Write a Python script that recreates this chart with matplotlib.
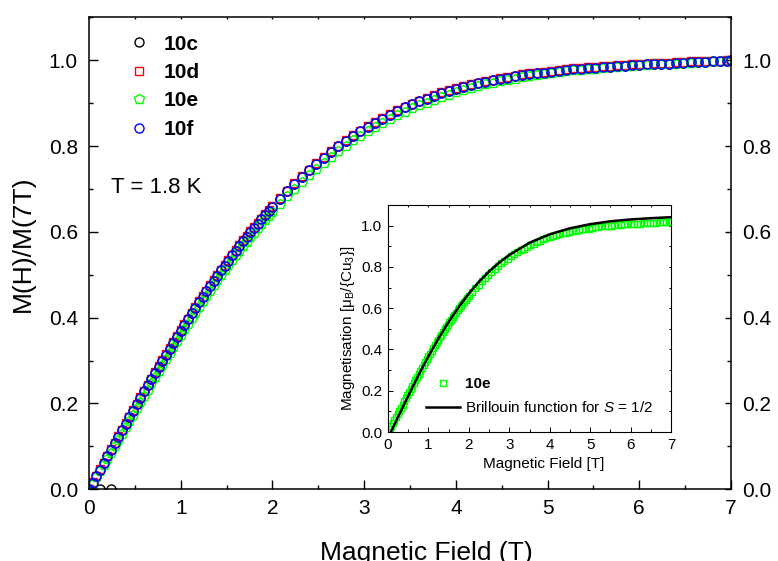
import matplotlib
matplotlib.use('Agg')
import matplotlib.pyplot as plt
from matplotlib.ticker import MultipleLocator

plt.rcParams['font.family'] = ['Liberation Sans', 'DejaVu Sans']
plt.rcParams['mathtext.fontset'] = 'custom'
plt.rcParams['mathtext.rm'] = 'Liberation Sans'
plt.rcParams['mathtext.it'] = 'Liberation Sans:italic'
plt.rcParams['mathtext.bf'] = 'Liberation Sans:bold'

# ---------------- data ----------------
field = [0.00, 0.04, 0.08, 0.12, 0.16, 0.20, 0.24, 0.28, 0.32, 0.36,
         0.40, 0.44, 0.48, 0.52, 0.56, 0.60, 0.64, 0.68, 0.72, 0.76,
         0.80, 0.84, 0.88, 0.92, 0.96, 1.00, 1.04, 1.08, 1.12, 1.16,
         1.20, 1.24, 1.28, 1.32, 1.36, 1.40, 1.44, 1.48, 1.52, 1.56,
         1.60, 1.64, 1.68, 1.72, 1.76, 1.80, 1.84, 1.88, 1.92, 1.96,
         2.00,
         2.08, 2.16, 2.24, 2.32, 2.40, 2.48, 2.56, 2.64, 2.72, 2.80,
         2.88, 2.96, 3.04, 3.12, 3.20, 3.28, 3.36, 3.44, 3.52, 3.60,
         3.68, 3.76, 3.84, 3.92, 4.00, 4.08, 4.16, 4.24, 4.32, 4.40,
         4.48, 4.56, 4.64, 4.72, 4.80, 4.88, 4.96, 5.04, 5.12, 5.20,
         5.28, 5.36, 5.44, 5.52, 5.60, 5.68, 5.76, 5.84, 5.92, 6.00,
         6.08, 6.16, 6.24, 6.32, 6.40, 6.48, 6.56, 6.64, 6.72, 6.80,
         6.88, 6.96, 7.00]

m_10c = [0.000, 0.015, 0.031, 0.000, 0.062, 0.077, 0.000, 0.107, 0.123, 0.138,
         0.153, 0.168, 0.183, 0.198, 0.213, 0.228, 0.242, 0.257, 0.271, 0.286,
         0.300, 0.314, 0.328, 0.342, 0.356, 0.370, 0.384, 0.397, 0.410, 0.423,
         0.436, 0.449, 0.461, 0.473, 0.486, 0.498, 0.510, 0.521, 0.533, 0.545,
         0.556, 0.567, 0.578, 0.588, 0.599, 0.609, 0.619, 0.629, 0.639, 0.648,
         0.658,
         0.676, 0.694, 0.711, 0.727, 0.743, 0.758, 0.772, 0.786, 0.799, 0.811,
         0.823, 0.834, 0.845, 0.854, 0.864, 0.873, 0.882, 0.890, 0.897, 0.904,
         0.910, 0.917, 0.923, 0.928, 0.933, 0.938, 0.942, 0.946, 0.950, 0.953,
         0.956, 0.959, 0.962, 0.965, 0.967, 0.969, 0.971, 0.973, 0.975, 0.977,
         0.979, 0.980, 0.981, 0.982, 0.984, 0.985, 0.986, 0.987, 0.988, 0.989,
         0.990, 0.991, 0.991, 0.992, 0.993, 0.994, 0.995, 0.995, 0.996, 0.997,
         0.998, 0.999, 1.000]

m_10d = [0.000, 0.016, 0.031, 0.047, 0.062, 0.078, 0.093, 0.108, 0.124, 0.139,
         0.154, 0.169, 0.184, 0.199, 0.214, 0.229, 0.244, 0.258, 0.273, 0.287,
         0.301, 0.315, 0.330, 0.344, 0.357, 0.371, 0.385, 0.398, 0.412, 0.425,
         0.438, 0.450, 0.463, 0.475, 0.488, 0.500, 0.512, 0.523, 0.535, 0.547,
         0.558, 0.569, 0.580, 0.590, 0.601, 0.611, 0.621, 0.631, 0.641, 0.650,
         0.660,
         0.678, 0.696, 0.713, 0.729, 0.745, 0.760, 0.774, 0.788, 0.801, 0.813,
         0.825, 0.836, 0.847, 0.856, 0.866, 0.875, 0.884, 0.892, 0.899, 0.906,
         0.912, 0.919, 0.925, 0.930, 0.935, 0.940, 0.944, 0.948, 0.952, 0.955,
         0.958, 0.961, 0.964, 0.967, 0.969, 0.971, 0.973, 0.975, 0.977, 0.979,
         0.981, 0.982, 0.983, 0.984, 0.986, 0.987, 0.988, 0.989, 0.990, 0.991,
         0.992, 0.993, 0.993, 0.994, 0.995, 0.996, 0.997, 0.997, 0.998, 0.999,
         0.999, 1.000, 1.000]

m_10e = [0.000, 0.013, 0.028, 0.042, 0.057, 0.071, 0.085, 0.100, 0.115, 0.130,
         0.145, 0.160, 0.174, 0.189, 0.204, 0.218, 0.232, 0.247, 0.261, 0.276,
         0.290, 0.304, 0.318, 0.331, 0.345, 0.359, 0.373, 0.386, 0.399, 0.412,
         0.425, 0.438, 0.450, 0.462, 0.475, 0.487, 0.499, 0.510, 0.522, 0.534,
         0.545, 0.556, 0.567, 0.577, 0.588, 0.598, 0.608, 0.618, 0.628, 0.637,
         0.647,
         0.665, 0.683, 0.700, 0.716, 0.732, 0.747, 0.761, 0.775, 0.788, 0.801,
         0.813, 0.824, 0.835, 0.844, 0.854, 0.863, 0.872, 0.880, 0.888, 0.895,
         0.901, 0.908, 0.915, 0.920, 0.926, 0.931, 0.935, 0.940, 0.944, 0.947,
         0.951, 0.954, 0.957, 0.960, 0.963, 0.965, 0.967, 0.969, 0.972, 0.974,
         0.976, 0.977, 0.979, 0.980, 0.982, 0.983, 0.984, 0.986, 0.987, 0.988,
         0.989, 0.990, 0.990, 0.991, 0.992, 0.993, 0.994, 0.995, 0.996, 0.997,
         0.998, 0.999, 1.000]

m_10f = [0.000, 0.015, 0.031, 0.046, 0.062, 0.077, 0.092, 0.107, 0.123, 0.138,
         0.153, 0.168, 0.183, 0.198, 0.213, 0.228, 0.242, 0.257, 0.271, 0.286,
         0.300, 0.314, 0.328, 0.342, 0.356, 0.370, 0.384, 0.397, 0.410, 0.423,
         0.436, 0.449, 0.461, 0.473, 0.486, 0.498, 0.510, 0.521, 0.533, 0.545,
         0.556, 0.567, 0.578, 0.588, 0.599, 0.609, 0.619, 0.629, 0.639, 0.648,
         0.658,
         0.676, 0.694, 0.711, 0.727, 0.743, 0.758, 0.772, 0.786, 0.799, 0.811,
         0.823, 0.834, 0.845, 0.854, 0.864, 0.873, 0.882, 0.890, 0.897, 0.904,
         0.910, 0.917, 0.923, 0.928, 0.933, 0.938, 0.942, 0.946, 0.950, 0.953,
         0.956, 0.959, 0.962, 0.965, 0.967, 0.969, 0.971, 0.973, 0.975, 0.977,
         0.979, 0.980, 0.981, 0.982, 0.984, 0.985, 0.986, 0.987, 0.988, 0.989,
         0.990, 0.991, 0.991, 0.992, 0.993, 0.994, 0.995, 0.995, 0.996, 0.997,
         0.998, 0.999, 1.000]

# inset: 10e in absolute units and Brillouin curve for S = 1/2
inset_10e = [0.000, 0.013, 0.029, 0.043, 0.058, 0.072, 0.087, 0.102, 0.117, 0.133,
             0.148, 0.163, 0.177, 0.193, 0.208, 0.222, 0.237, 0.252, 0.266, 0.282,
             0.296, 0.310, 0.324, 0.338, 0.352, 0.366, 0.380, 0.394, 0.407, 0.420,
             0.434, 0.447, 0.459, 0.471, 0.485, 0.497, 0.509, 0.520, 0.532, 0.545,
             0.556, 0.567, 0.578, 0.589, 0.600, 0.610, 0.620, 0.630, 0.641, 0.650,
             0.660,
             0.678, 0.697, 0.714, 0.730, 0.747, 0.762, 0.776, 0.791, 0.804, 0.817,
             0.829, 0.840, 0.852, 0.861, 0.871, 0.880, 0.889, 0.898, 0.906, 0.913,
             0.919, 0.926, 0.933, 0.938, 0.945, 0.950, 0.954, 0.959, 0.963, 0.966,
             0.970, 0.973, 0.976, 0.979, 0.982, 0.984, 0.986, 0.988, 0.991, 0.993,
             0.996, 0.997, 0.999, 1.000, 1.002, 1.003, 1.004, 1.006, 1.007, 1.008,
             1.009, 1.010, 1.010, 1.011, 1.012, 1.013, 1.014, 1.015, 1.016, 1.017,
             1.018, 1.019, 1.020]

brillouin_field = [0.07, 0.25, 0.5, 0.75, 1.0, 1.25, 1.5, 1.75, 2.0, 2.25, 2.5,
                   2.75, 3.0, 3.5, 4.0, 4.5, 5.0, 5.5, 6.0, 6.5, 7.0]
brillouin_m = [0.000, 0.074, 0.175, 0.274, 0.367, 0.454, 0.534, 0.606, 0.671,
               0.728, 0.778, 0.821, 0.858, 0.917, 0.958, 0.987, 1.007, 1.021,
               1.030, 1.036, 1.041]

x_ticks = [0, 1, 2, 3, 4, 5, 6, 7]
y_ticks = [0.0, 0.2, 0.4, 0.6, 0.8, 1.0]
y_tick_labels = ['0.0', '0.2', '0.4', '0.6', '0.8', '1.0']

# ---------------- figure ----------------
fig = plt.figure(figsize=(7.78, 5.61), dpi=100)
ax = fig.add_axes([0.1144, 0.1278, 0.8252, 0.8414])

mk = dict(linestyle='none', mfc='none', mew=1.0)
ax.plot(field, m_10c, marker='o', mec='black', ms=6.5, label='10c', **mk)
ax.plot(field, m_10d, marker='s', mec='#ff0000', ms=5.5, label='10d', **mk)
ax.plot(field, m_10e, marker='p', mec='#00ff00', ms=7.0, label='10e', **mk)
ax.plot(field, m_10f, marker='o', mec='#0000ff', ms=6.5, label='10f', **mk)

ax.set_xlim(0, 7)
ax.set_ylim(0, 1.1)
ax.set_xticks(x_ticks)
ax.set_xticklabels([str(v) for v in x_ticks])
ax.set_yticks(y_ticks)
ax.set_yticklabels(y_tick_labels)
ax.xaxis.set_minor_locator(MultipleLocator(0.5))
ax.yaxis.set_minor_locator(MultipleLocator(0.1))
for s in ax.spines.values():
    s.set_linewidth(1.1)
ax.tick_params(which='both', direction='in', labelsize=15, width=1.0,
               right=True, labelright=True, top=True)
ax.tick_params(axis='x', which='major', length=6.2, pad=7)
ax.tick_params(axis='x', which='minor', length=3.1)
ax.tick_params(axis='y', which='major', length=6.2, pad=8)
ax.tick_params(axis='y', which='minor', length=3.1)
for t in ax.xaxis.get_major_ticks() + ax.xaxis.get_minor_ticks():
    t.tick2line.set_markersize(1.5)
for t in ax.yaxis.get_major_ticks():
    t.tick2line.set_markersize(4.0)
for t in ax.yaxis.get_minor_ticks():
    t.tick2line.set_markersize(2.8)

ax.text(-0.103, 0.52, 'M(H)/M(7T)', transform=ax.transAxes, rotation=90,
        ha='center', va='center', fontsize=19)
fig.text(0.5476, 0.001, 'Magnetic Field (T)', ha='center', va='baseline',
         fontsize=19)
fig.text(0.1427, 0.665, 'T = 1.8 K', ha='left', va='center', fontsize=16)

leg = ax.legend(loc='upper left', bbox_to_anchor=(0.061, 0.963), frameon=False,
                prop={'weight': 'bold', 'size': 15}, handlelength=1.0,
                handletextpad=0.7, labelspacing=0.45, borderpad=0,
                borderaxespad=0, numpoints=1)

# ---------------- inset ----------------
ax_in = fig.add_axes([0.4987, 0.2299, 0.3638, 0.4047])
ax_in.plot(field, inset_10e, linestyle='none', marker='s', mfc='none',
           mec='#00ff00', ms=4.5, mew=1.0, label='10e')
ax_in.plot(brillouin_field, brillouin_m, color='black', lw=1.8,
           label='Brillouin function for $S$ = 1/2')
ax_in.set_xlim(0, 7)
ax_in.set_ylim(0, 1.1)
ax_in.set_xticks(x_ticks)
ax_in.set_xticklabels([str(v) for v in x_ticks])
ax_in.set_yticks(y_ticks)
ax_in.set_yticklabels(y_tick_labels)
ax_in.xaxis.set_minor_locator(MultipleLocator(0.5))
ax_in.yaxis.set_minor_locator(MultipleLocator(0.1))
for s in ax_in.spines.values():
    s.set_linewidth(0.8)
ax_in.tick_params(which='both', direction='in', labelsize=11, width=0.7,
                  top=True, right=True)
ax_in.tick_params(which='major', length=3.5, pad=4)
ax_in.tick_params(which='minor', length=2.0)
for t in ax_in.xaxis.get_major_ticks() + ax_in.xaxis.get_minor_ticks():
    t.tick2line.set_markersize(1.5)
for t in ax_in.yaxis.get_major_ticks() + ax_in.yaxis.get_minor_ticks():
    t.tick2line.set_markersize(1.5)

ax_in.text(0.551, -0.141, 'Magnetic Field [T]', transform=ax_in.transAxes,
           ha='center', va='center', fontsize=11)
ax_in.text(-0.141, 0.458, 'Magnetisation [μ$_\\mathrm{B}$/{Cu$_3$}]',
           transform=ax_in.transAxes, rotation=90, ha='center', va='center',
           fontsize=11)

leg_in = ax_in.legend(loc='upper left', bbox_to_anchor=(0.134, 0.242),
                      frameon=False, fontsize=11, handlelength=2.2,
                      handletextpad=0.35, labelspacing=0.6, borderpad=0,
                      borderaxespad=0, numpoints=1)
leg_in.get_texts()[0].set_fontweight('bold')

fig.savefig('out.png', dpi=100)
